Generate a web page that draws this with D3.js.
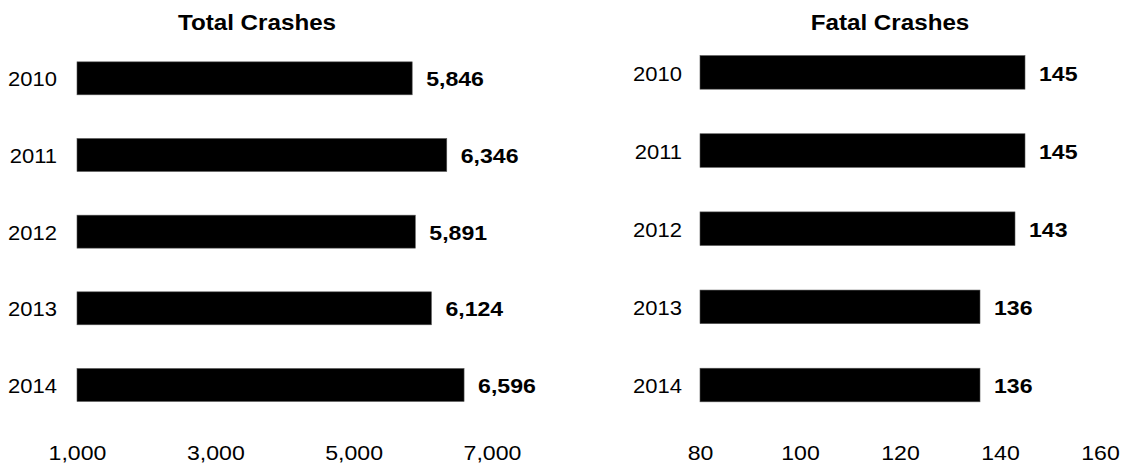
<!DOCTYPE html>
<html>
<head>
<meta charset="utf-8">
<script src="https://cdn.jsdelivr.net/npm/d3@7"></script>
<style>
  html, body { margin: 0; padding: 0; background: #fff; }
  svg { display: block; font-family: "Liberation Sans", Arial, sans-serif; }
</style>
</head>
<body>
<svg id="chart" width="1128" height="465"></svg>
<script>
const years = ["2010", "2011", "2012", "2013", "2014"];
const totalCrashes = [5846, 6346, 5891, 6124, 6596];
const fatalCrashes = [145, 145, 143, 136, 136];
const totalTicks = [1000, 3000, 5000, 7000];
const fatalTicks = [80, 100, 120, 140, 160];

const SX = 1.1; // horizontal glyph stretch seen in the reference
const svg = d3.select("#chart");

const panels = [
  { title: "Total Crashes", values: totalCrashes, ticks: totalTicks, domain: [1000, 7000],
    xRange: [77, 492], yRange: [40, 423.3], titleX: 257, labelRight: 57,
    fmt: d3.format(",") },
  { title: "Fatal Crashes", values: fatalCrashes, ticks: fatalTicks, domain: [80, 160],
    xRange: [700, 1100], yRange: [33.3, 424.1], titleX: 890, labelRight: 682,
    fmt: d3.format(",") }
];

function stretchText(sel, x, y) {
  sel.attr("x", 0).attr("y", 0)
     .attr("transform", `translate(${x},${y}) scale(${SX},1)`);
}

panels.forEach(p => {
  const g = svg.append("g");
  const x = d3.scaleLinear().domain(p.domain).range(p.xRange);
  const y = d3.scaleBand().domain(years).range(p.yRange).paddingInner(0.57).paddingOuter(0.285);

  // title
  g.append("text")
    .attr("text-anchor", "middle")
    .attr("font-weight", "bold")
    .attr("font-size", 22)
    .attr("fill", "#000")
    .text(p.title)
    .call(stretchText, p.titleX, 29.5);

  // bars
  g.selectAll("rect.bar").data(p.values).join("rect")
    .attr("class", "bar")
    .attr("x", x(p.domain[0]))
    .attr("y", (d, i) => y(years[i]))
    .attr("width", d => x(d) - x(p.domain[0]))
    .attr("height", y.bandwidth())
    .attr("fill", "#000")
    .attr("stroke", "#555")
    .attr("stroke-width", 0.6);

  // category labels
  g.selectAll("text.cat").data(years).join("text")
    .attr("class", "cat")
    .attr("text-anchor", "end")
    .attr("dominant-baseline", "central")
    .attr("font-size", 20)
    .attr("fill", "#000")
    .text(d => d)
    .each(function (d) {
      d3.select(this).call(stretchText, p.labelRight, y(d) + y.bandwidth() / 2 + 1);
    });

  // value labels
  g.selectAll("text.val").data(p.values).join("text")
    .attr("class", "val")
    .attr("text-anchor", "start")
    .attr("dominant-baseline", "central")
    .attr("font-weight", "bold")
    .attr("font-size", 21)
    .attr("fill", "#000")
    .text(d => p.fmt(d))
    .each(function (d, i) {
      d3.select(this).call(stretchText, x(d) + 14, y(years[i]) + y.bandwidth() / 2 + 1);
    });

  // x axis
  const axis = d3.axisBottom(x).tickValues(p.ticks).tickSize(0).tickFormat(p.fmt);
  const ag = g.append("g").attr("transform", "translate(0,460)").call(axis);
  ag.select(".domain").remove();
  ag.selectAll("text")
    .attr("y", 0).attr("dy", null)
    .attr("font-size", 21)
    .attr("font-family", "Liberation Sans, Arial, sans-serif")
    .attr("fill", "#000")
    .attr("transform", `scale(${SX},1)`);
});
</script>
</body>
</html>
